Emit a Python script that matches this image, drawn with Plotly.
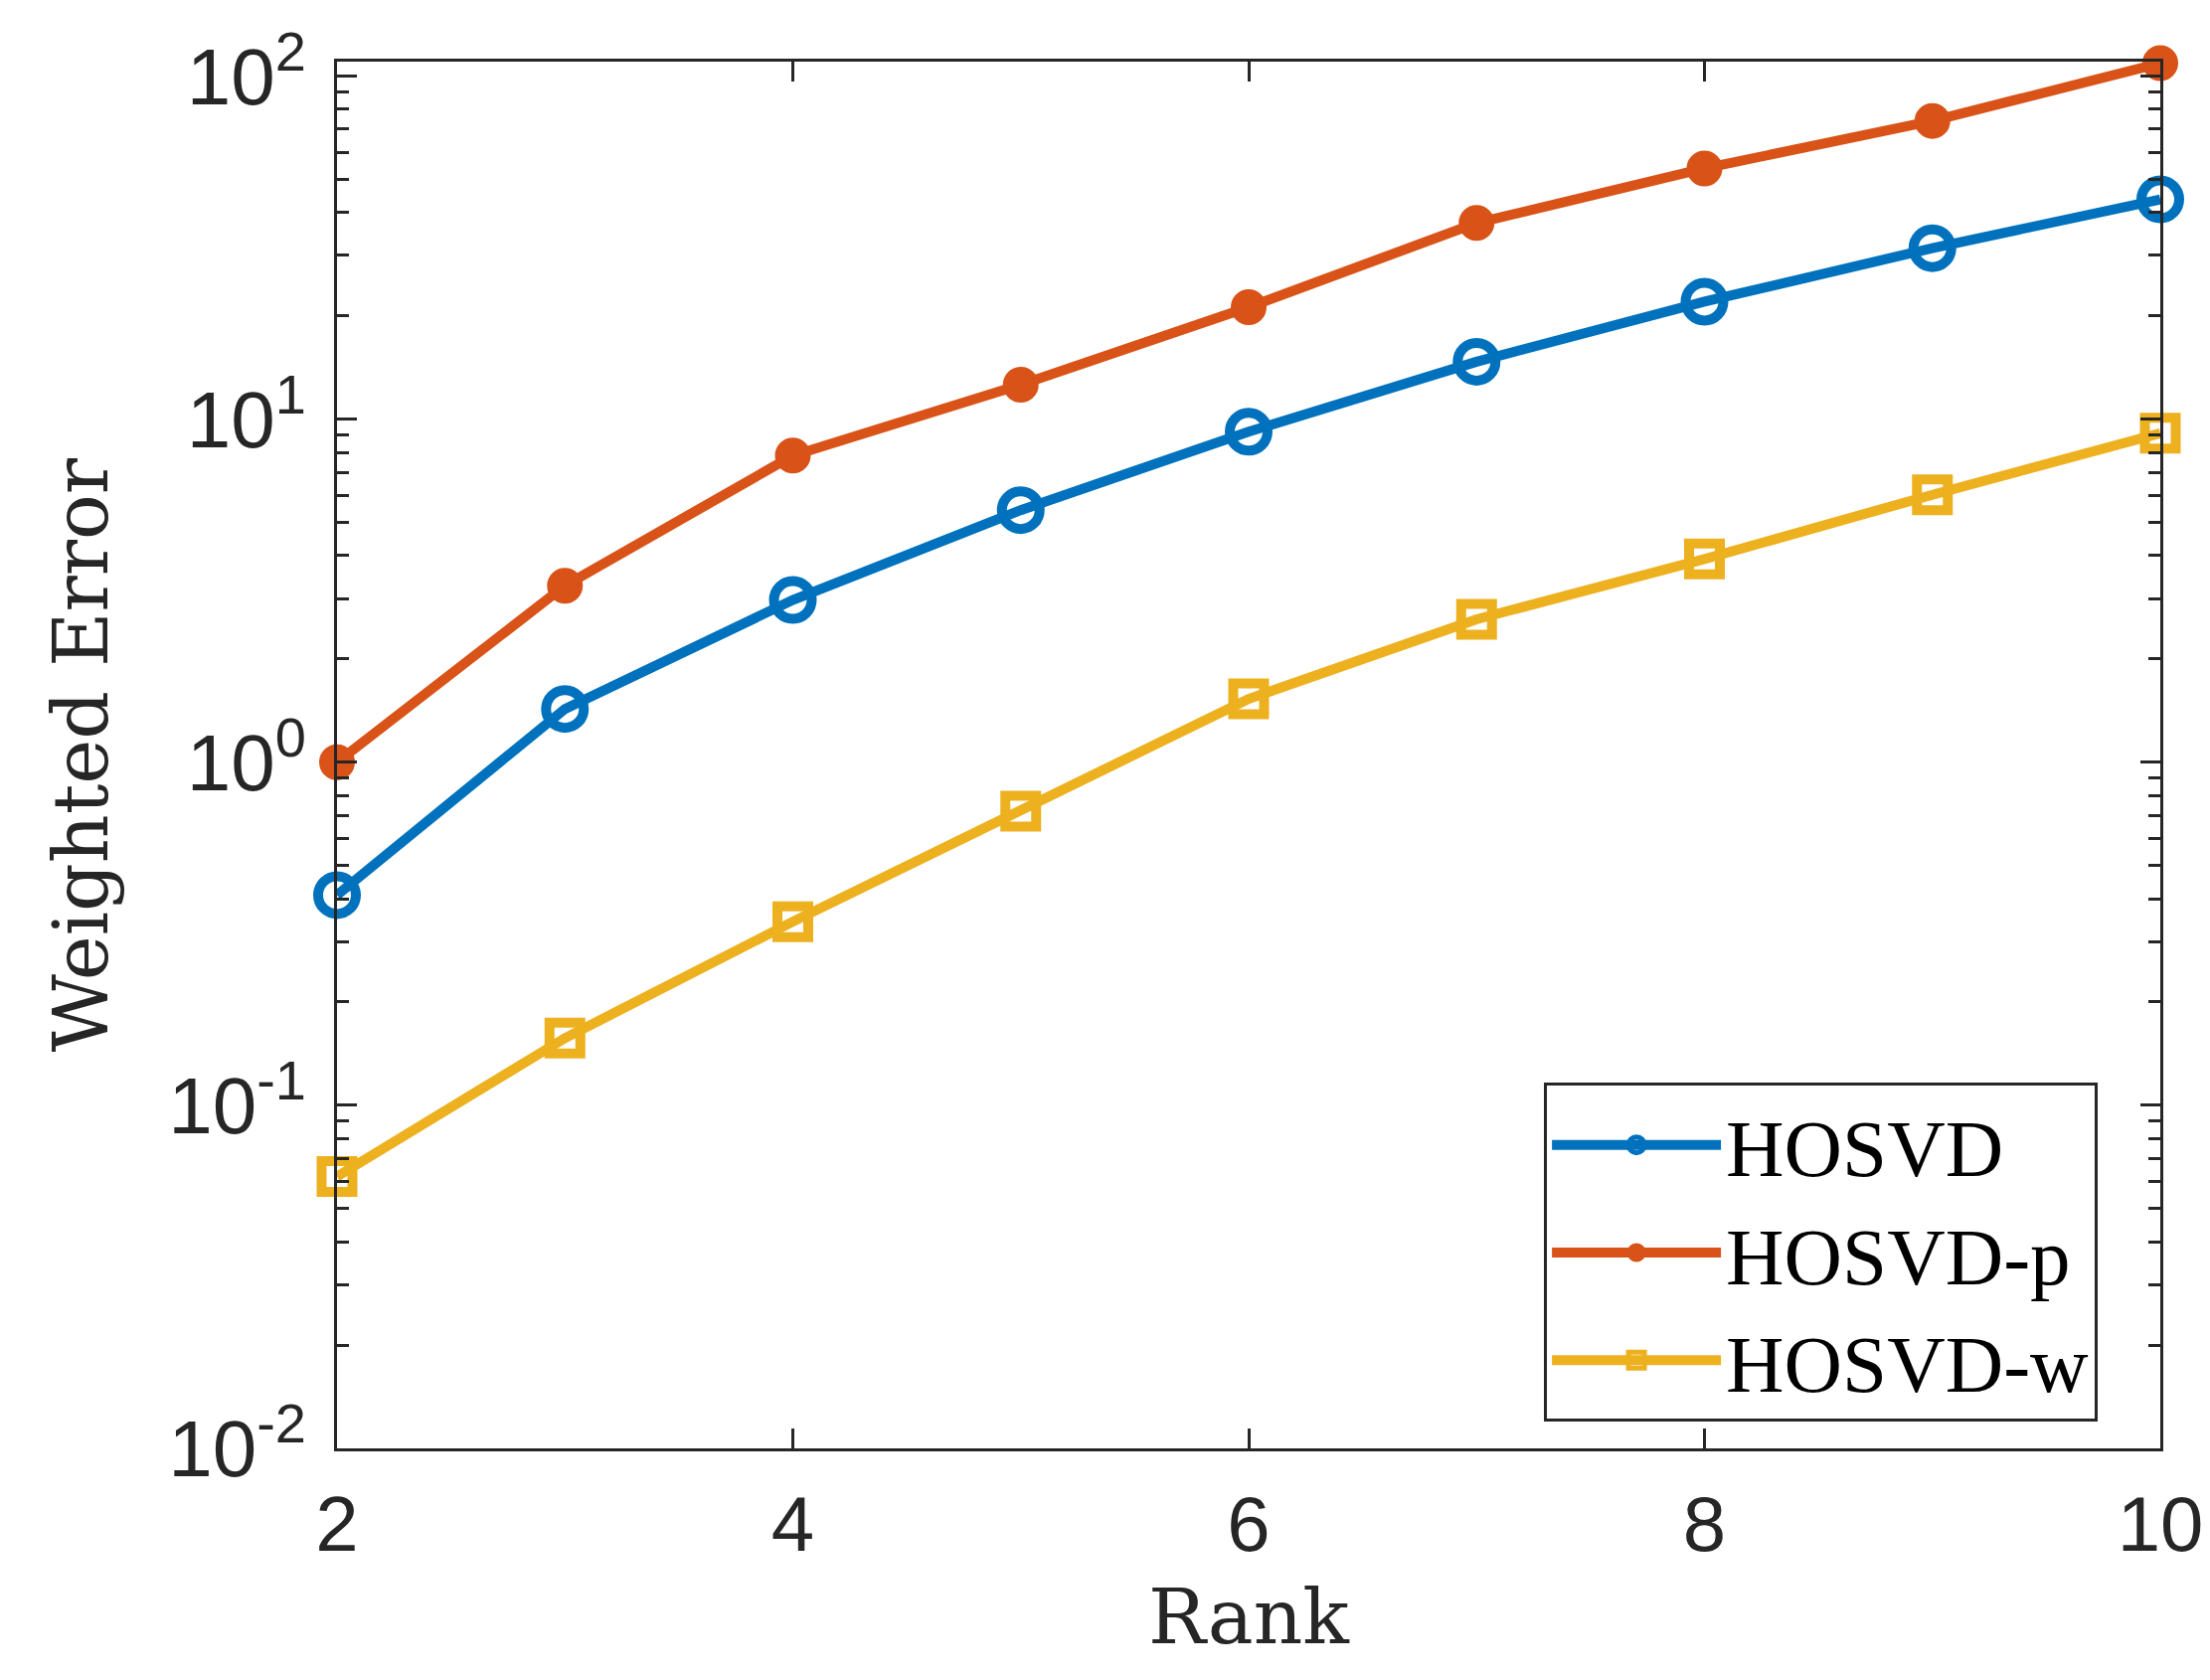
import plotly.graph_objects as go

rank = [2, 3, 4, 5, 6, 7, 8, 9, 10]
hosvd = [0.41, 1.43, 2.97, 5.43, 9.19, 14.7, 22.0, 31.5, 43.7]
hosvd_p = [1.0, 3.27, 7.83, 12.6, 21.2, 37.3, 53.8, 74.0, 109.0]
hosvd_w = [0.062, 0.157, 0.343, 0.72, 1.53, 2.61, 3.91, 6.02, 9.1]

y_ticks = [0.01, 0.1, 1, 10, 100]
y_labels = ["10<sup>-2</sup>", "10<sup>-1</sup>", "10<sup>0</sup>", "10<sup>1</sup>", "10<sup>2</sup>"]
y_minor = [k * 10 ** e for e in range(-2, 2) for k in range(2, 10)]
x_ticks = [2, 4, 6, 8, 10]

axis_col = "#262626"
label_font = "DejaVu Serif, Liberation Serif"

fig = go.Figure()
fig.add_trace(go.Scatter(
    x=rank, y=hosvd, name="HOSVD", mode="lines+markers", cliponaxis=False,
    line=dict(color="#0072BD", width=10),
    marker=dict(symbol="circle-open", size=38, line=dict(width=10, color="#0072BD")),
))
fig.add_trace(go.Scatter(
    x=rank, y=hosvd_p, name="HOSVD-p", mode="lines+markers", cliponaxis=False,
    line=dict(color="#D95319", width=10),
    marker=dict(symbol="circle", size=33, color="#D95319", line=dict(width=3, color="#D95319")),
))
fig.add_trace(go.Scatter(
    x=rank, y=hosvd_w, name="HOSVD-w", mode="lines+markers", cliponaxis=False,
    line=dict(color="#EDB120", width=10),
    marker=dict(symbol="square-open", size=31, line=dict(width=10, color="#EDB120")),
))

fig.update_layout(
    width=2223, height=1690,
    margin=dict(l=331, r=58, t=46, b=241),
    paper_bgcolor="white", plot_bgcolor="white",
    font=dict(family="Liberation Sans, Arial", color=axis_col, size=78),
    showlegend=True,
    legend=dict(
        x=0.662, y=0.019, xanchor="left", yanchor="bottom",
        bgcolor="white", bordercolor=axis_col, borderwidth=3,
        font=dict(family="Liberation Serif, Times New Roman", size=81, color="black"),
        itemwidth=170, tracegroupgap=0,
    ),
)

fig.update_xaxes(
    range=[2, 10], tickvals=x_ticks, ticks="inside", ticklen=20, tickwidth=3,
    tickcolor=axis_col, showline=True, linecolor=axis_col, linewidth=3,
    mirror="allticks", showgrid=False, zeroline=False,
    tickfont=dict(size=78, color=axis_col), ticklabelstandoff=6,
    title=dict(text="Rank", font=dict(family=label_font, size=77, color=axis_col), standoff=24),
)
fig.update_yaxes(
    type="log", range=[-2, 2.042], tickvals=y_ticks, ticktext=y_labels,
    ticks="inside", ticklen=20, tickwidth=3, tickcolor=axis_col,
    showline=True, linecolor=axis_col, linewidth=3, mirror="allticks",
    showgrid=False, zeroline=False,
    minor=dict(tickvals=y_minor, ticks="inside", ticklen=12, tickwidth=3, tickcolor=axis_col, showgrid=False),
    tickfont=dict(size=80, color=axis_col), ticklabelstandoff=12,
    title=dict(text="Weighted Error", font=dict(family=label_font, size=76, color=axis_col), standoff=36),
)

fig.write_html("out.html")
